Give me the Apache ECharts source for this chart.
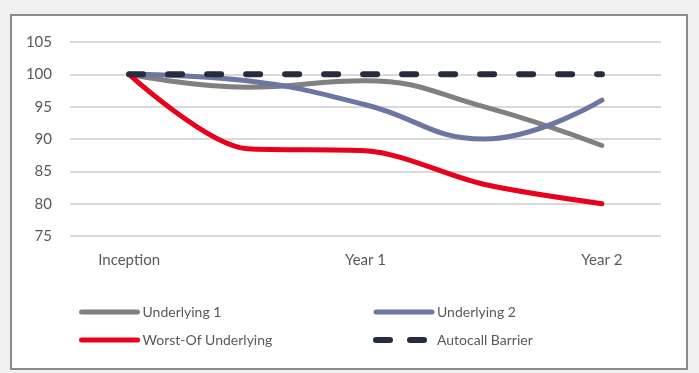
<!DOCTYPE html>
<html>
<head>
<meta charset="utf-8">
<script src="https://cdn.jsdelivr.net/npm/echarts@6/dist/echarts.min.js"></script>
<style>
html,body{margin:0;padding:0;background:#f0f0f0;width:699px;height:373px;overflow:hidden;}
#panel{position:absolute;left:10px;top:14px;width:674px;height:352px;border:2px solid #8a8a8a;background:#fff;}
#chart{position:absolute;left:0;top:0;width:699px;height:373px;}
</style>
</head>
<body>
<div id="panel"></div>
<div id="chart"></div>
<script>
const categories = ['Inception', '', 'Year 1', '', 'Year 2'];
const underlying1 = [100, 98, 99, 95, 89];
const underlying2 = [100, 99, 95.3, 90, 96];
const worstOf = [100, 88.5, 88.2, 83, 80];
const barrier = [100, 100, 100, 100, 100];
const yTicks = [75, 80, 85, 90, 95, 100, 105];

const FONT = 'Lato';
const chart = echarts.init(document.getElementById('chart'), null, {renderer: 'canvas'});
const lineSeries = (name, data, color, extra) => Object.assign({
  name: name, type: 'line', data: data, symbol: 'none', smooth: 0.45,
  lineStyle: {color: color, width: 5, cap: 'round'},
  itemStyle: {color: color}
}, extra || {});

const legendBase = {
  orient: 'vertical', top: 300, itemWidth: 56, itemHeight: 14, itemGap: 14,
  lineStyle: {width: 5, cap: 'round'},
  itemStyle: {opacity: 0},
  textStyle: {color: '#595959', fontSize: 14, fontFamily: FONT}
};

chart.setOption({
  animation: false,
  backgroundColor: 'transparent',
  textStyle: {fontFamily: FONT},
  grid: {left: 70, right: 38, top: 42, bottom: 137, containLabel: false},
  xAxis: {
    type: 'category', data: categories, boundaryGap: true,
    axisLine: {show: false}, axisTick: {show: false},
    axisLabel: {interval: 0, color: '#595959', fontSize: 15, fontFamily: FONT, margin: 17}
  },
  yAxis: {
    type: 'value', min: yTicks[0], max: yTicks[yTicks.length - 1], interval: 5,
    axisLine: {show: false}, axisTick: {show: false},
    axisLabel: {color: '#595959', fontSize: 15, fontFamily: FONT, margin: 18},
    splitLine: {lineStyle: {color: '#d9d9d9', width: 2}}
  },
  legend: [
    Object.assign({left: 74, data: ['Underlying 1', 'Worst-Of Underlying']}, legendBase),
    Object.assign({left: 368, data: ['Underlying 2',
      {name: 'Autocall Barrier', lineStyle: {width: 6, type: [14, 20], cap: 'round'}}]}, legendBase)
  ],
  series: [
    lineSeries('Underlying 1', underlying1, '#808080'),
    lineSeries('Underlying 2', underlying2, '#6b76a3'),
    lineSeries('Worst-Of Underlying', worstOf, '#e8001c', {smooth: 0.3}),
    lineSeries('Autocall Barrier', barrier, '#262b3e', {smooth: false,
      lineStyle: {color: '#262b3e', width: 6, type: [14, 25], cap: 'round'}})
  ]
});
</script>
</body>
</html>
